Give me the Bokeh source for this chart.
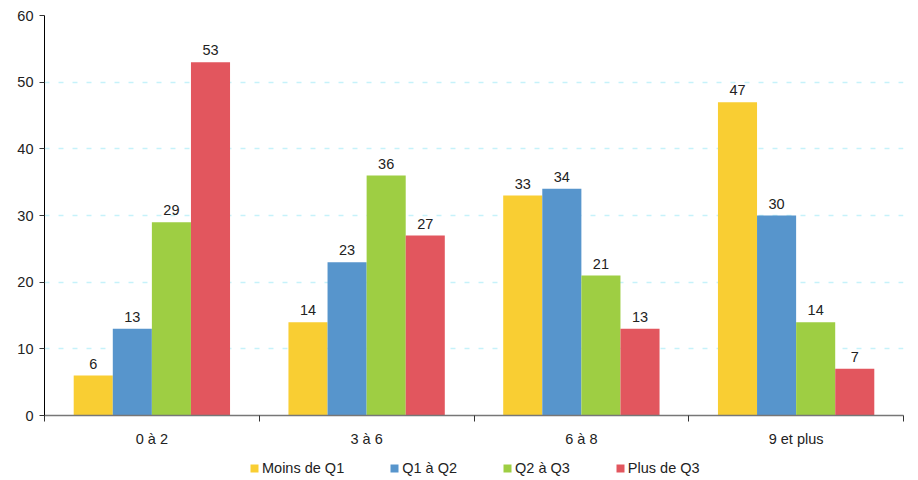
from bokeh.plotting import figure
from bokeh.layouts import column
from bokeh.models import ColumnDataSource, FixedTicker, Legend, LegendItem, Range1d
from bokeh.embed import file_html
from bokeh.resources import INLINE
from bokeh.core.properties import value

categories = ["0 à 2", "3 à 6", "6 à 8", "9 et plus"]
series_names = ["Moins de Q1", "Q1 à Q2", "Q2 à Q3", "Plus de Q3"]
moins_q1 = [6, 14, 33, 47]
q1_q2 = [13, 23, 34, 30]
q2_q3 = [29, 36, 21, 14]
plus_q3 = [53, 27, 13, 7]
y_ticks = [0, 10, 20, 30, 40, 50, 60]

colors = ["#F9CE33", "#5795CC", "#9ECE43", "#E2565E"]
series_vals = [moins_q1, q1_q2, q2_q3, plus_q3]

FONT = "Liberation Sans"
FS = "14.5px"
bar_w = 0.182

p = figure(width=910, height=450, output_backend="svg", toolbar_location=None,
           x_range=Range1d(0, len(categories)), y_range=Range1d(0, 60),
           min_border_left=44, min_border_right=7, min_border_top=15,
           min_border_bottom=35)
p.outline_line_color = None
p.background_fill_color = "white"
p.border_fill_color = "white"

for k, (name, vals, col) in enumerate(zip(series_names, series_vals, colors)):
    xs = [i + 0.5 + (k - 1.5) * bar_w for i in range(len(categories))]
    src = ColumnDataSource(dict(x=xs, top=vals, lab=[str(v) for v in vals]))
    p.vbar(x="x", top="top", bottom=0, width=bar_w, source=src,
           fill_color=col, line_color=None)
    p.text(x="x", y="top", text="lab", source=src, text_align="center",
           text_baseline="alphabetic", y_offset=-12, text_font=value(FONT),
           text_font_size=FS, text_color="#222222")

# x axis
p.xaxis.ticker = FixedTicker(ticks=[i + 0.5 for i in range(len(categories))],
                             minor_ticks=list(range(len(categories) + 1)))
p.xaxis.major_label_overrides = {i + 0.5: c for i, c in enumerate(categories)}
p.xaxis.major_tick_out = 0
p.xaxis.major_tick_in = 0
p.xaxis.minor_tick_out = 6
p.xaxis.minor_tick_in = 0
p.xaxis.minor_tick_line_color = "#333333"
p.xaxis.axis_line_color = "#777777"
p.xaxis.axis_line_width = 1.5
p.xaxis.major_label_standoff = 9
p.xaxis.major_label_text_font = FONT
p.xaxis.major_label_text_font_size = FS
p.xaxis.major_label_text_color = "#222222"
p.xgrid.grid_line_color = None

# y axis
p.yaxis.ticker = FixedTicker(ticks=y_ticks)
p.yaxis.minor_tick_line_color = None
p.yaxis.major_tick_out = 5
p.yaxis.major_tick_in = 0
p.yaxis.axis_line_color = "black"
p.yaxis.major_tick_line_color = "#333333"
p.yaxis.major_label_standoff = 6
p.yaxis.major_label_text_font = FONT
p.yaxis.major_label_text_font_size = FS
p.yaxis.major_label_text_color = "#222222"
p.ygrid.grid_line_color = "#C6F2FA"
p.ygrid.grid_line_dash = "5 9"
p.ygrid.grid_line_width = 1.5

# legend strip
lf = figure(width=910, height=26, output_backend="svg", toolbar_location=None,
            x_range=Range1d(0, 1), y_range=Range1d(0, 1),
            min_border_left=0, min_border_right=0, min_border_top=0,
            min_border_bottom=0)
lf.axis.visible = False
lf.grid.grid_line_color = None
lf.outline_line_color = None
items = []
for name, col in zip(series_names, colors):
    r = lf.vbar(x=[-5], top=[0], width=0.1, fill_color=col, line_color=None)
    items.append(LegendItem(label=name, renderers=[r]))
legend = Legend(items=items, orientation="horizontal", location=(205, 0),
                glyph_width=10, glyph_height=10, label_standoff=3, spacing=45,
                label_text_font=FONT, label_text_font_size=FS,
                label_text_color="#222222", border_line_color=None,
                background_fill_alpha=0, padding=3, margin=0)
lf.add_layout(legend, "center")

layout = column(p, lf, spacing=0)
open("out.html", "w").write(file_html(layout, INLINE))
